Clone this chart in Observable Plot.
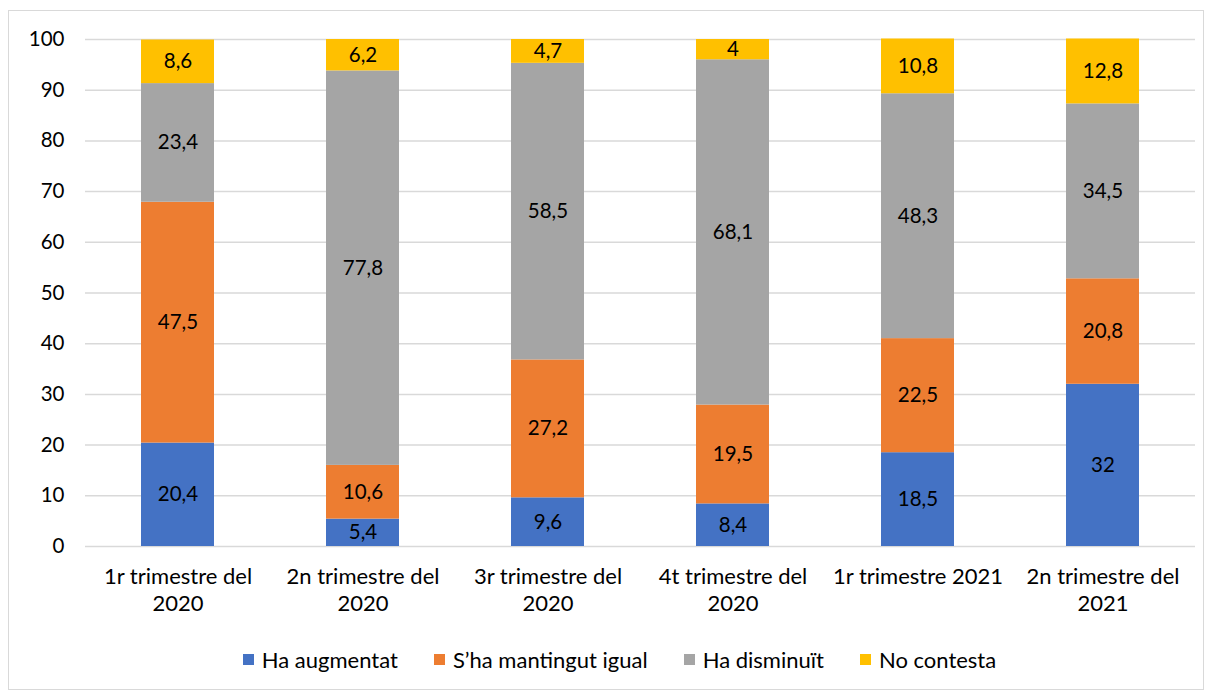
<!DOCTYPE html>
<html>
<head>
<meta charset="utf-8">
<script src="https://cdn.jsdelivr.net/npm/d3@7"></script>
<script src="https://cdn.jsdelivr.net/npm/@observablehq/plot@0.6"></script>
<style>
  html, body { margin: 0; padding: 0; background: #fff; }
  body { width: 1211px; height: 691px; position: relative; overflow: hidden; font-family: Lato, "Noto Sans", sans-serif; }
  #frame { position: absolute; left: 8px; top: 10px; width: 1196px; height: 680px; border: 1px solid #d9d9d9; box-sizing: border-box; }
  #chart { position: absolute; left: 0; top: 0; }
  #legend { position: absolute; left: 28px; top: 646px; width: 1183px; display: flex; justify-content: center; align-items: center; font-size: 22px; color: #000; }
  .item { display: flex; align-items: center; margin: 0 18px; }
  .sw { width: 11px; height: 11px; margin-right: 8px; }
</style>
</head>
<body>
<div id="frame"></div>
<div id="chart"></div>
<div id="legend"></div>
<script>
const categories = ["Q1-2020", "Q2-2020", "Q3-2020", "Q4-2020", "Q1-2021", "Q2-2021"];
const categoryLabels = ["1r trimestre del\n2020", "2n trimestre del\n2020", "3r trimestre del\n2020", "4t trimestre del\n2020", "1r trimestre 2021", "2n trimestre del\n2021"];
const seriesNames = ["Ha augmentat", "S\u2019ha mantingut igual", "Ha disminu\u00eft", "No contesta"];
const seriesColors = ["#4472C4", "#ED7D31", "#A5A5A5", "#FFC000"];
const haAugmentat = [20.4, 5.4, 9.6, 8.4, 18.5, 32];
const mantingutIgual = [47.5, 10.6, 27.2, 19.5, 22.5, 20.8];
const haDisminuit = [23.4, 77.8, 58.5, 68.1, 48.3, 34.5];
const noContesta = [8.6, 6.2, 4.7, 4, 10.8, 12.8];
const yTicks = [0, 10, 20, 30, 40, 50, 60, 70, 80, 90, 100];

const seriesValues = [haAugmentat, mantingutIgual, haDisminuit, noContesta];
const data = [];
categories.forEach((c, i) => {
  seriesNames.forEach((s, j) => {
    data.push({category: c, series: s, value: seriesValues[j][i]});
  });
});
const labelOf = Object.fromEntries(categories.map((c, i) => [c, categoryLabels[i]]));
const fmt = v => String(v).replace(".", ",");

const chart = Plot.plot({
  width: 1211,
  height: 630,
  marginTop: 39,
  marginBottom: 84,
  marginLeft: 85,
  marginRight: 16,
  style: {fontFamily: "Lato, 'Noto Sans', sans-serif", fontSize: "20px", color: "#000", background: "transparent"},
  x: {domain: categories, paddingInner: 0.605, paddingOuter: 0.3025, label: null},
  y: {domain: [0, 100], label: null},
  color: {domain: seriesNames, range: seriesColors},
  marks: [
    Plot.gridY(yTicks, {stroke: "#d9d9d9", strokeOpacity: 1, strokeWidth: 1.5}),
    Plot.barY(data, Plot.stackY({x: "category", y: "value", z: "series", fill: "series", order: seriesNames})),
    Plot.text(data, Plot.stackY({x: "category", y: "value", z: "series", order: seriesNames, text: d => fmt(d.value), fill: "#000", fontSize: 20.5})),
    Plot.axisY(yTicks, {tickSize: 0, tickPadding: 21, fontSize: 20.5, fill: "#000", label: null}),
    Plot.axisX({tickSize: 0, tickPadding: 18, fontSize: 22, fill: "#000", lineHeight: 1.23, tickFormat: d => labelOf[d], label: null})
  ]
});
document.getElementById("chart").appendChild(chart);

const legend = document.getElementById("legend");
seriesNames.forEach((s, j) => {
  const item = document.createElement("div");
  item.className = "item";
  const sw = document.createElement("span");
  sw.className = "sw";
  sw.style.background = seriesColors[j];
  const t = document.createElement("span");
  t.textContent = s;
  item.appendChild(sw);
  item.appendChild(t);
  legend.appendChild(item);
});
</script>
</body>
</html>
